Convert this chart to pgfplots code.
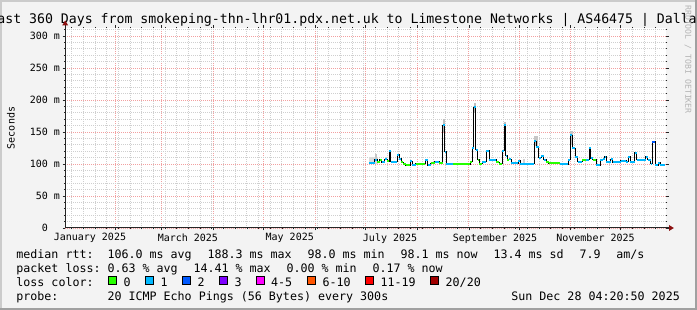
\documentclass[border=0pt]{standalone}
\usepackage{pgfplots}
\pgfplotsset{compat=1.18}
\usepackage{fontspec}
\setmainfont{DejaVu Sans Mono}
\definecolor{bgc}{HTML}{F3F3F3}
\definecolor{shadea}{HTML}{CBCBCB}
\definecolor{shadeb}{HTML}{A0A0A0}
\definecolor{mgrid}{HTML}{F2A0A0}
\definecolor{mingrid}{HTML}{CFCFCF}
\definecolor{axiscol}{HTML}{262626}
\definecolor{arrowcol}{HTML}{8B1010}
\definecolor{lc0}{HTML}{26FF00}
\definecolor{lc1}{HTML}{00B8FF}
\definecolor{lc2}{HTML}{0059FF}
\definecolor{lc3}{HTML}{7E00FF}
\definecolor{lc4}{HTML}{FF00FF}
\definecolor{lc6}{HTML}{FF5500}
\definecolor{lc11}{HTML}{FF0000}
\definecolor{lc20}{HTML}{A10000}
\definecolor{wm}{HTML}{B4B4B4}
\newcommand{\lgfont}{\fontsize{11.66bp}{14bp}\selectfont}
\begin{document}
\begin{tikzpicture}
\useasboundingbox (0bp,0bp) rectangle (697bp,310bp);
\clip (0bp,0bp) rectangle (697bp,310bp);
\fill[bgc] (0bp,0bp) rectangle (697bp,310bp);
\fill[shadea] (0bp,0bp) rectangle (2bp,310bp);
\fill[shadea] (0bp,308bp) rectangle (697bp,310bp);
\fill[shadeb] (695bp,0bp) rectangle (697bp,310bp);
\fill[shadeb] (0bp,0bp) rectangle (697bp,2bp);
\begin{axis}[
  at={(65.2bp,82bp)}, anchor=south west,
  scale only axis, width=600.9bp, height=200bp,
  xmin=1.18, xmax=361.18, ymin=0, ymax=312.5,
  axis background/.style={fill=white},
  axis line style={draw=none},
  /pgf/number format/assume math mode=true,
  xtick={31,59,90,120,151,181,212,243,273,304,334},
  xticklabels={},
  minor xtick={5,12,...,355},
  extra x ticks={16,74.7,135.7,195.8,258.7,318.9},
  extra x tick labels={January 2025,March 2025,May 2025,July 2025,September 2025,November 2025},
  extra x tick style={grid=none, major tick length=0pt},
  ytick={0,50,...,300},
  yticklabels={0\phantom{0m},50 m,100 m,150 m,200 m,250 m,300 m},
  minor ytick={10,20,...,310},
  grid=both,
  major grid style={mgrid, dash pattern=on 1bp off 1bp, line width=0.8bp},
  minor grid style={mingrid, dash pattern=on 1bp off 1bp, line width=0.8bp},
  tick style={axiscol, line width=0.6bp},
  major tick length=2.5bp, minor tick length=1.2bp, tick align=outside,
  ticklabel style={font=\fontsize{10bp}{12bp}\selectfont},
  xticklabel style={yshift=-2bp},
  yticklabel style={anchor=east, inner sep=0pt, xshift=-2.5bp},
  title={Last 360 Days from smokeping-thn-lhr01.pdx.net.uk to Limestone Networks | AS46475 | Dallas},
  title style={font=\fontsize{13.2bp}{15bp}\selectfont, at={(axis description cs:0.5,1)}, anchor=base, yshift=-1bp, xshift=-18.6bp, inner sep=0pt},
  ylabel={Seconds},
  every axis y label/.style={at={(axis description cs:0,0.5)}, xshift=-54.4bp, rotate=90, anchor=center, font=\fontsize{10bp}{12bp}\selectfont},
  unbounded coords=jump,
]
% smoke
\addplot[fill=gray!28, draw=none] coordinates {(183.4,100)(188.8,100)(188.8,111)(183.4,111)};
\addplot[fill=gray!45, draw=none] coordinates {(186.8,106)(188.2,106)(188.2,115)(186.8,115)};
\addplot[fill=gray!35, draw=none] coordinates {(192.8,106)(194.2,106)(194.2,111)(192.8,111)};
\addplot[fill=gray!50, draw=none] coordinates {(227.3,150)(228.5,150)(228.5,170)(227.3,170)};
\addplot[fill=gray!50, draw=none] coordinates {(245.9,180)(247.1,180)(247.1,195)(245.9,195)};
\addplot[fill=gray!50, draw=none] coordinates {(264.0,152)(265.1,152)(265.1,166)(264.0,166)};
\addplot[fill=gray!35, draw=none] coordinates {(275.6,100)(276.8,100)(276.8,108)(275.6,108)};
\addplot[fill=gray!45, draw=none] coordinates {(282.0,128)(284.6,128)(284.6,143)(282.0,143)};
\addplot[fill=gray!45, draw=none] coordinates {(303.4,132)(305.4,132)(305.4,151)(303.4,151)};
% median (black steps)
\addplot[black, line width=1bp, const plot] coordinates {
(183.38,102.1)(186.78,106.3)(188.18,103.1)(189.77,106.3)(190.97,103.1)(192.77,107.8)(194.17,104.2)(195.37,120.3)(196.17,103.7)(200.16,114.1)(201.36,108.3)(202.36,103.1)(203.76,100.5)(205.15,98.0)(207.75,104.2)(208.95,98.0)(211.14,100.0)(216.94,105.7)(218.33,98.0)(220.13,101.0)(222.53,103.7)(225.33,102.1)(227.32,160.9)(228.52,119.3)(229.32,99.5)(233.71,99.5)(243.70,103.7)(244.90,124.5)(245.90,188.3)(247.09,121.9)(248.29,106.3)(249.29,100.0)(251.09,103.7)(253.29,120.9)(255.28,106.3)(259.28,102.6)(261.07,100.0)(263.07,120.9)(264.07,160.9)(265.07,112.5)(265.87,106.3)(267.07,107.8)(268.26,101.0)(272.46,105.2)(273.66,100.5)(282.05,135.9)(283.44,127.1)(284.84,109.9)(286.24,112.5)(287.84,106.3)(289.24,103.7)(290.83,101.0)(297.62,99.8)(302.42,106.3)(303.62,145.0)(304.81,124.5)(306.61,111.5)(308.21,103.7)(311.01,106.3)(313.20,106.3)(315.00,125.5)(316.00,108.9)(317.20,106.3)(319.19,98.4)(321.59,106.3)(323.59,107.8)(324.39,111.5)(325.39,103.7)(327.98,107.3)(329.18,102.6)(333.98,105.2)(337.17,103.7)(338.57,111.5)(339.77,102.6)(342.36,117.7)(343.56,106.3)(348.95,111.5)(350.15,106.3)(351.95,100.0)(352.75,134.9)(354.75,98.4)(356.54,102.1)(357.74,98.1)(360.54,98.1)};
% loss 0 (green)
\addplot[lc0, line width=2bp] coordinates {
(188.18,103.1)(189.77,103.1)(189.77,nan)
(189.77,106.3)(190.97,106.3)(190.97,nan)
(194.17,104.2)(195.37,104.2)(195.37,nan)
(202.36,103.1)(203.76,103.1)(203.76,nan)
(203.76,100.5)(205.15,100.5)(205.15,nan)
(205.15,98.0)(207.75,98.0)(207.75,nan)
(211.14,100.0)(216.94,100.0)(216.94,nan)
(220.13,101.0)(222.53,101.0)(222.53,nan)
(225.33,102.1)(227.32,102.1)(227.32,nan)
(233.71,99.5)(243.70,99.5)(243.70,nan)
(243.70,103.7)(244.90,103.7)(244.90,nan)
(248.29,106.3)(249.29,106.3)(249.29,nan)
(249.29,100.0)(251.09,100.0)(251.09,nan)
(259.28,102.6)(261.07,102.6)(261.07,nan)
(261.07,100.0)(263.07,100.0)(263.07,nan)
(265.87,106.3)(267.07,106.3)(267.07,nan)
(289.24,103.7)(290.83,103.7)(290.83,nan)
(290.83,101.0)(297.62,101.0)(297.62,nan)
(311.01,106.3)(313.20,106.3)(313.20,nan)
(317.20,106.3)(319.19,106.3)};
% loss 1 (light blue)
\addplot[lc1, line width=2bp] coordinates {
(183.38,102.1)(186.78,102.1)(186.78,nan)
(186.78,106.3)(188.18,106.3)(188.18,nan)
(190.97,103.1)(192.77,103.1)(192.77,nan)
(192.77,107.8)(194.17,107.8)(194.17,nan)
(195.37,120.3)(196.17,120.3)(196.17,nan)
(196.17,103.7)(200.16,103.7)(200.16,nan)
(200.16,114.1)(201.36,114.1)(201.36,nan)
(201.36,108.3)(202.36,108.3)(202.36,nan)
(207.75,104.2)(208.95,104.2)(208.95,nan)
(208.95,98.0)(211.14,98.0)(211.14,nan)
(216.94,105.7)(218.33,105.7)(218.33,nan)
(218.33,98.0)(220.13,98.0)(220.13,nan)
(222.53,103.7)(225.33,103.7)(225.33,nan)
(227.32,160.9)(228.52,160.9)(228.52,nan)
(228.52,119.3)(229.32,119.3)(229.32,nan)
(229.32,99.5)(233.71,99.5)(233.71,nan)
(244.90,124.5)(245.90,124.5)(245.90,nan)
(245.90,188.3)(247.09,188.3)(247.09,nan)
(247.09,121.9)(248.29,121.9)(248.29,nan)
(251.09,103.7)(253.29,103.7)(253.29,nan)
(253.29,120.9)(255.28,120.9)(255.28,nan)
(255.28,106.3)(259.28,106.3)(259.28,nan)
(263.07,120.9)(264.07,120.9)(264.07,nan)
(264.07,160.9)(265.07,160.9)(265.07,nan)
(265.07,112.5)(265.87,112.5)(265.87,nan)
(267.07,107.8)(268.26,107.8)(268.26,nan)
(268.26,101.0)(272.46,101.0)(272.46,nan)
(272.46,105.2)(273.66,105.2)(273.66,nan)
(273.66,100.5)(282.05,100.5)(282.05,nan)
(282.05,135.9)(283.44,135.9)(283.44,nan)
(283.44,127.1)(284.84,127.1)(284.84,nan)
(284.84,109.9)(286.24,109.9)(286.24,nan)
(286.24,112.5)(287.84,112.5)(287.84,nan)
(287.84,106.3)(289.24,106.3)(289.24,nan)
(297.62,99.8)(302.42,99.8)(302.42,nan)
(302.42,106.3)(303.62,106.3)(303.62,nan)
(303.62,145.0)(304.81,145.0)(304.81,nan)
(304.81,124.5)(306.61,124.5)(306.61,nan)
(306.61,111.5)(308.21,111.5)(308.21,nan)
(308.21,103.7)(311.01,103.7)(311.01,nan)
(313.20,106.3)(315.00,106.3)(315.00,nan)
(315.00,125.5)(316.00,125.5)(316.00,nan)
(316.00,108.9)(317.20,108.9)(317.20,nan)
(319.19,98.4)(321.59,98.4)(321.59,nan)
(321.59,106.3)(323.59,106.3)(323.59,nan)
(323.59,107.8)(324.39,107.8)(324.39,nan)
(324.39,111.5)(325.39,111.5)(325.39,nan)
(325.39,103.7)(327.98,103.7)(327.98,nan)
(327.98,107.3)(329.18,107.3)(329.18,nan)
(329.18,102.6)(333.98,102.6)(333.98,nan)
(333.98,105.2)(337.17,105.2)(337.17,nan)
(337.17,103.7)(338.57,103.7)(338.57,nan)
(338.57,111.5)(339.77,111.5)(339.77,nan)
(339.77,102.6)(342.36,102.6)(342.36,nan)
(342.36,117.7)(343.56,117.7)(343.56,nan)
(343.56,106.3)(348.95,106.3)(348.95,nan)
(348.95,111.5)(350.15,111.5)(350.15,nan)
(350.15,106.3)(351.95,106.3)(351.95,nan)
(351.95,100.0)(352.75,100.0)(352.75,nan)
(354.75,98.4)(356.54,98.4)(356.54,nan)
(356.54,102.1)(357.74,102.1)(357.74,nan)
(357.74,98.1)(360.54,98.1)};
% loss 2 (blue)
\addplot[lc2, line width=2bp] coordinates {(352.75,134.9)(354.75,134.9)};
\end{axis}
% axis lines and arrows
\draw[axiscol, line width=1bp] (65.2bp,82bp) -- (670bp,82bp);
\fill[arrowcol] (669bp,85bp) -- (673.8bp,82bp) -- (669bp,79bp) -- cycle;
\draw[axiscol, line width=1bp] (65.2bp,82bp) -- (65.2bp,285bp);
\fill[arrowcol] (62.2bp,284.5bp) -- (65.2bp,289.5bp) -- (68.2bp,284.5bp) -- cycle;
% watermark
\node[rotate=-90, anchor=west, text=wm, inner sep=0pt, font=\fontsize{8.2bp}{9bp}\selectfont] at (688bp,305bp) {RRDTOOL / TOBI OETIKER};
% legend text
\begin{scope}[every node/.style={anchor=base west, inner sep=0pt, font=\lgfont}]
\node at (16.2bp,51.7bp) {median rtt:};
\node at (107.3bp,51.7bp) {106.0 ms avg};
\node at (207.3bp,51.7bp) {188.3 ms max};
\node at (307.3bp,51.7bp) {98.0 ms min};
\node at (400.3bp,51.7bp) {98.1 ms now};
\node at (493.3bp,51.7bp) {13.4 ms sd};
\node at (579.3bp,51.7bp) {7.9};
\node at (616.2bp,51.7bp) {am/s};
\node at (16.2bp,37.7bp) {packet loss:};
\node at (107.3bp,37.7bp) {0.63 \% avg};
\node at (193.3bp,37.7bp) {14.41 \% max};
\node at (286.3bp,37.7bp) {0.00 \% min};
\node at (372.3bp,37.7bp) {0.17 \% now};
\node at (16.2bp,23.7bp) {loss color:};
\node at (123.3bp,23.7bp) {0};
\node at (160.5bp,23.7bp) {1};
\node at (197.3bp,23.7bp) {2};
\node at (234.3bp,23.7bp) {3};
\node at (271.0bp,23.7bp) {4-5};
\node at (322.3bp,23.7bp) {6-10};
\node at (380.4bp,23.7bp) {11-19};
\node at (445.5bp,23.7bp) {20/20};
\node at (16.2bp,9.7bp) {probe:};
\node at (107.3bp,9.7bp) {20 ICMP Echo Pings (56 Bytes) every 300s};
\node[anchor=base east] at (680bp,9.7bp) {Sun Dec 28 04:20:50 2025};
\end{scope}
\begin{scope}[line width=0.7bp]
\filldraw[fill=lc0, draw=black] (108.3bp,25.7bp) rectangle (116.5bp,33.9bp);
\filldraw[fill=lc1, draw=black] (145.5bp,25.7bp) rectangle (153.7bp,33.9bp);
\filldraw[fill=lc2, draw=black] (182.5bp,25.7bp) rectangle (190.7bp,33.9bp);
\filldraw[fill=lc3, draw=black] (219.3bp,25.7bp) rectangle (227.5bp,33.9bp);
\filldraw[fill=lc4, draw=black] (256.0bp,25.7bp) rectangle (264.2bp,33.9bp);
\filldraw[fill=lc6, draw=black] (307.3bp,25.7bp) rectangle (315.5bp,33.9bp);
\filldraw[fill=lc11, draw=black] (365.4bp,25.7bp) rectangle (373.6bp,33.9bp);
\filldraw[fill=lc20, draw=black] (430.5bp,25.7bp) rectangle (438.7bp,33.9bp);
\end{scope}
\end{tikzpicture}
\end{document}
